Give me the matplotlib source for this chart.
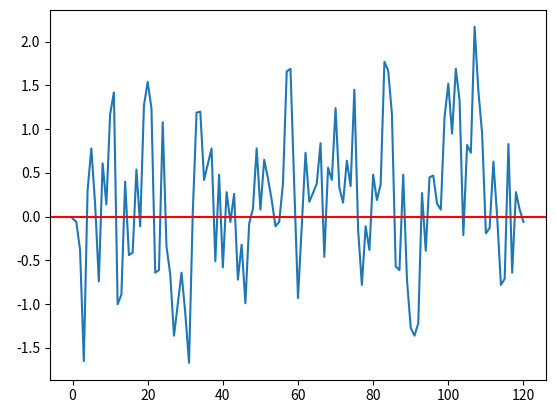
import numpy as np
import matplotlib
matplotlib.use("Agg")
import matplotlib.pyplot as plt

plt.rcParams['font.family'] = ['Noto Sans CJK JP', 'DejaVu Sans']
plt.rcParams['axes.unicode_minus'] = False

# valores (índices 0..120)
valores = [
    -0.02, -0.06, -0.38, -1.65, 0.30, 0.78, 0.15, -0.74, 0.61, 0.14,
    1.17, 1.42, -1.00, -0.89, 0.40, -0.44, -0.41, 0.54, -0.11, 1.27,
    1.54, 1.24, -0.64, -0.61, 1.08, -0.34, -0.66, -1.36, -1.00, -0.64,
    -1.10, -1.67, 0.05, 1.19, 1.20, 0.42, 0.60, 0.78, -0.51, 0.48,
    -0.58, 0.28, -0.06, 0.26, -0.72, -0.32, -0.99, -0.08, 0.09, 0.78,
    0.08, 0.65, 0.44, 0.19, -0.11, -0.06, 0.38, 1.66, 1.69, 0.35,
    -0.93, -0.11, 0.73, 0.17, 0.27, 0.38, 0.84, -0.46, 0.56, 0.42,
    1.24, 0.33, 0.16, 0.64, 0.35, 1.45, -0.15, -0.78, -0.11, -0.38,
    0.48, 0.19, 0.37, 1.77, 1.67, 1.17, -0.57, -0.61, 0.48, -0.72,
    -1.27, -1.36, -1.22, 0.27, -0.39, 0.45, 0.47, 0.15, 0.08, 1.14,
    1.52, 0.95, 1.69, 1.33, -0.21, 0.82, 0.73, 2.17, 1.44, 0.95,
    -0.19, -0.13, 0.63, 0.00, -0.78, -0.71, 0.83, -0.64, 0.28, 0.08,
    -0.06,
]
indices = np.arange(len(valores))

fig = plt.figure(figsize=(5.56, 4.12), dpi=100)
ax = fig.add_axes([50 / 556, 32.4 / 412, 496 / 556, 369.6 / 412])
ax.plot(indices, valores)
ax.axhline(0, color='red')

fig.savefig("out.png", dpi=100)
